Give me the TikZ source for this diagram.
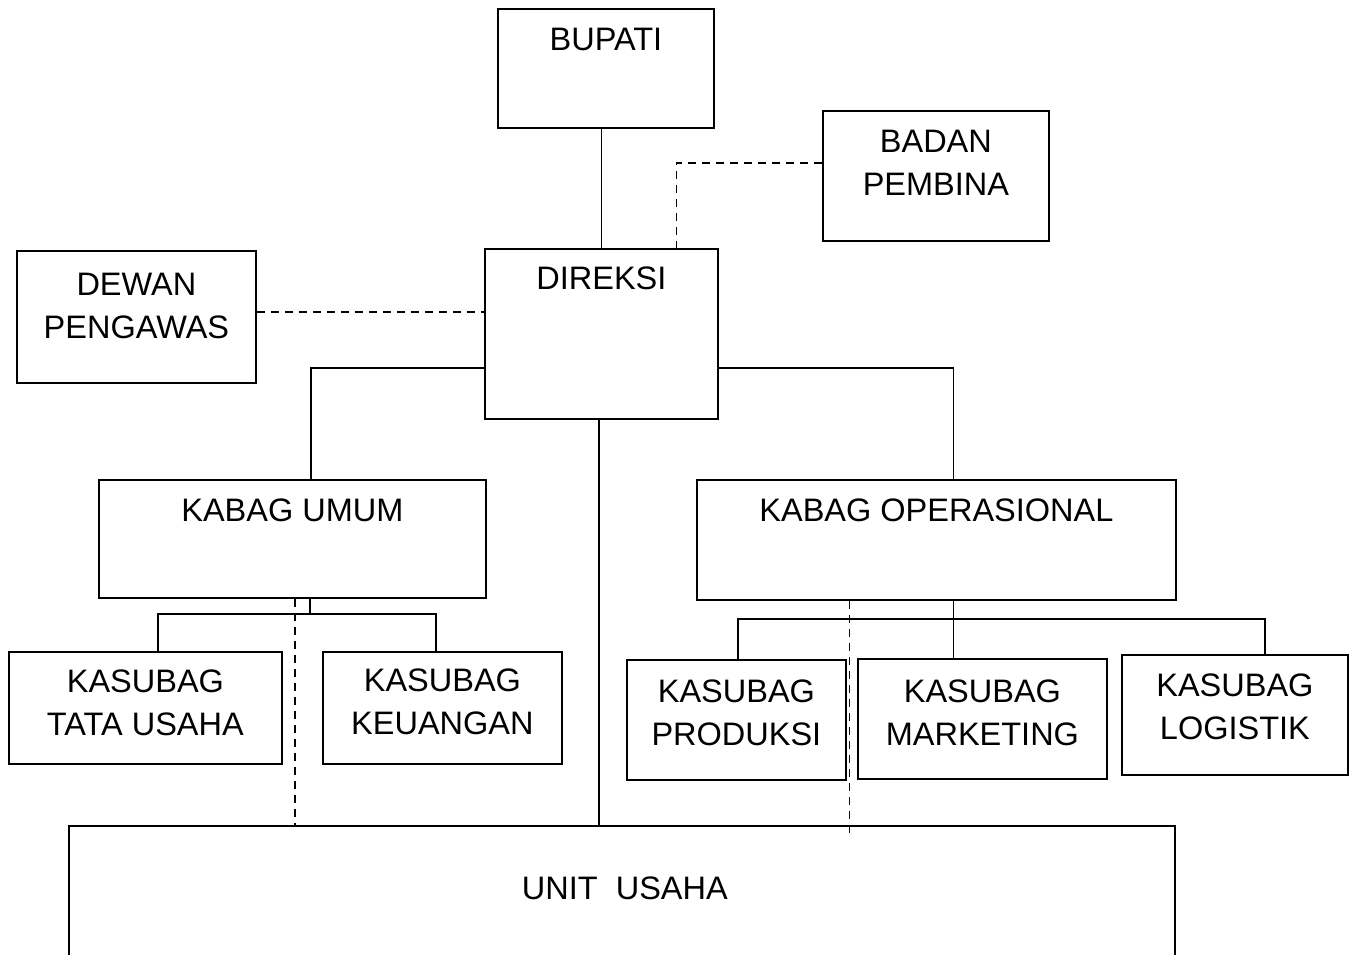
\documentclass[tikz,border=0pt]{standalone}
\usepackage{fontspec}
\setmainfont{Liberation Sans}

\begin{document}
\begin{tikzpicture}[x=1pt,y=-1pt,line width=1.8pt]
	\useasboundingbox (0,0) rectangle (1355,954);
	\clip (0,0) rectangle (1355,954);
	% Define the box style
	\tikzstyle{orgbox} = [draw, rectangle, anchor=north west, inner sep=0pt];
	\tikzstyle{boxtext} = [anchor=north, inner sep=0pt, align=center, font=\fontsize{32.5}{43}\selectfont];
	\tikzstyle{dashline} = [dash pattern=on 8pt off 6pt];
	
	% Top boxes
	\node[orgbox, minimum width=216pt, minimum height=119pt, label={[boxtext, yshift=-19pt]north:BUPATI}] (bupati) at (497,8) {};
	\node[orgbox, minimum width=226pt, minimum height=130pt, label={[boxtext, yshift=-19pt]north:{BADAN\\PEMBINA}}] (badan) at (822,110) {};
	\node[orgbox, minimum width=239pt, minimum height=132pt, label={[boxtext, yshift=-22pt]north:{DEWAN\\PENGAWAS}}] (dewan) at (16,250) {};
	\node[orgbox, minimum width=233pt, minimum height=170pt, label={[boxtext, yshift=-18pt]north:DIREKSI}] (direksi) at (484,248) {};
	
	% KABAG boxes
	\node[orgbox, minimum width=387pt, minimum height=118pt, label={[boxtext, yshift=-19pt]north:KABAG UMUM}] (kumum) at (98,479) {};
	\node[orgbox, minimum width=479pt, minimum height=120pt, label={[boxtext, yshift=-19pt]north:KABAG OPERASIONAL}] (kops) at (696,479) {};
	
	% Draw the KASUBAG boxes
	\foreach \n/\x/\y/\w/\h/\s/\t in {tata/8/651/273/112/18/{KASUBAG\\TATA USAHA}, keu/322/651/239/112/17/{KASUBAG\\KEUANGAN}, prod/626/659/219/120/20/{KASUBAG\\PRODUKSI}, mark/857/658/249/120/21/{KASUBAG\\MARKETING}, logi/1121/654/226/120/19/{KASUBAG\\LOGISTIK}}
	\node[orgbox, minimum width=\w pt, minimum height=\h pt, label={[boxtext, yshift=-\s pt]north:\t}] (\n) at (\x,\y) {};
	
	% Bottom box, cut off by the page edge
	\node[orgbox, minimum width=1106pt, minimum height=200pt, label={[boxtext, yshift=-51pt, xshift=3pt]north:UNIT\ \ USAHA}] (unit) at (68,825) {};
	
	% Solid lines
	\draw (bupati.south -| direksi.north) -- (direksi.north);
	\draw ([xshift=-2.5pt]direksi.south) -- ([xshift=-2.5pt]direksi.south |- unit.north);
	\draw ([yshift=-34pt]direksi.west) -| ([xshift=18.5pt]kumum.north);
	\draw ([yshift=-34pt]direksi.east) -| ([xshift=17pt]kops.north);
	
	\coordinate (ubus) at (310,614);
	\coordinate (obus) at (952.5,619);
	\draw (ubus) -- (ubus |- kumum.south);
	\draw ([xshift=12.5pt]tata.north) |- (ubus) -| ([xshift=-6.5pt]keu.north);
	\draw ([xshift=17pt]kops.south) -- ([xshift=-29pt]mark.north);
	\draw ([xshift=1.5pt]prod.north) |- (obus) -| ([xshift=30pt]logi.north);
	
	% Dashed lines
	\draw[dashline] ([yshift=13pt]badan.west) -| ([xshift=75pt]direksi.north);
	\draw[dashline] ([yshift=5pt]dewan.east) -- ([yshift=22pt]direksi.west);
	\draw[dashline] ([xshift=2.5pt]kumum.south) -- ([xshift=2.5pt]kumum.south |- unit.north);
	\draw[dashline] ([xshift=-87pt]kops.south) -- ([xshift=-87pt,yshift=-10pt]kops.south |- unit.north);
\end{tikzpicture}
\end{document}
